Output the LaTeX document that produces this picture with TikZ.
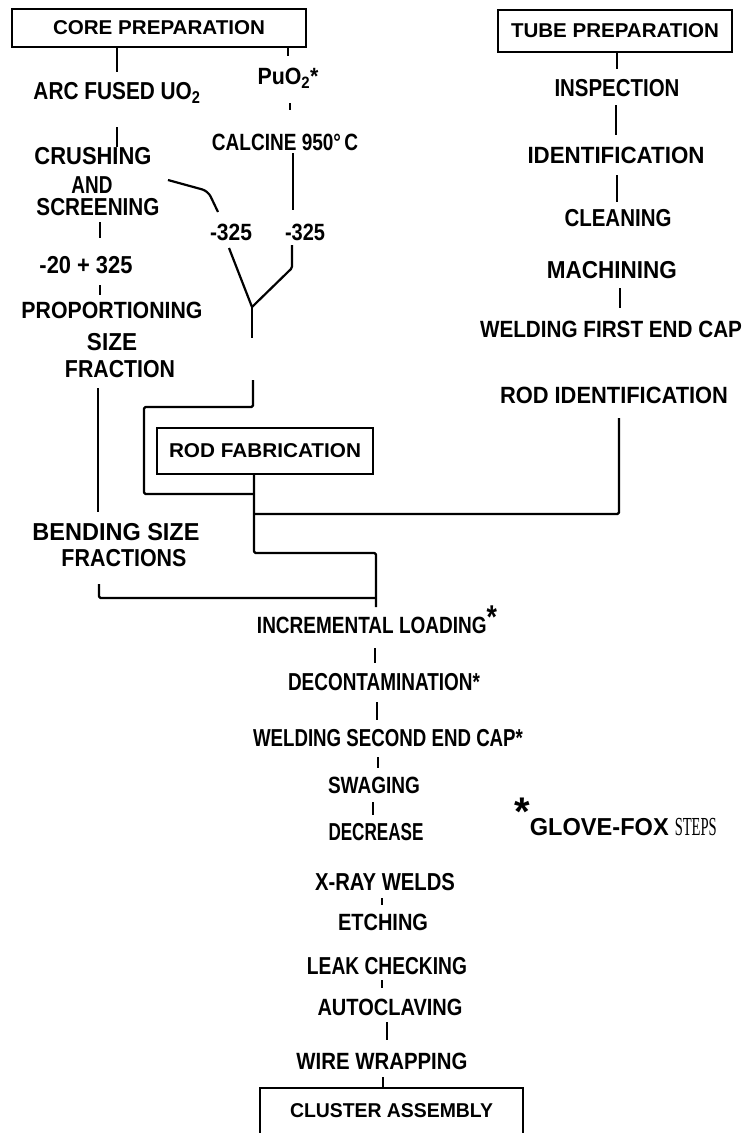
\documentclass[tikz,border=0pt]{standalone}
\usepackage{fontspec}
\setmainfont{Liberation Sans}
\newfontfamily\serifface{Liberation Serif}
\usetikzlibrary{calc}
% squeeze a label horizontally to a given width (in pt), keeping its height
\newcommand\fitw[2]{\resizebox{#1pt}{\height}{#2}}

\begin{document}
\begin{tikzpicture}[x=1pt,y=-1pt,
  boldlbl/.style={inner sep=0pt, font=\fontsize{24.5}{26}\selectfont\bfseries},
  litelbl/.style={inner sep=0pt, font=\fontsize{23.5}{25}\selectfont\bfseries},
  headbox/.style={draw, line width=2pt, inner sep=0pt, font=\fontsize{20}{22}\selectfont\bfseries},
  flowline/.style={line width=2.8pt},
  routeline/.style={line width=2.2pt, line join=round, rounded corners=1.5pt},
  thinline/.style={line width=1.2pt}]

\fill[white] (0,0) rectangle (745,1133);
\useasboundingbox (0,0) rectangle (745,1133);
\clip (0,0) rectangle (745,1133);

% ---------- boxed headings ----------
\node[headbox, minimum width=294pt, minimum height=38pt] (core) at (159,28) {\fitw{212}{CORE PREPARATION}};
\node[headbox, minimum width=234pt, minimum height=42pt] (tube) at (615,31) {\fitw{208}{TUBE PREPARATION}};
\node[headbox, minimum width=216pt, minimum height=46pt] (rodfab) at (265,451) {\fitw{192}{ROD FABRICATION}};
\node[headbox, minimum width=263pt, minimum height=56pt, text height=16pt, text depth=14pt] (cluster) at (391.5,1116) {\fitw{203}{CLUSTER ASSEMBLY}};

% ---------- core preparation branch ----------
\node[boldlbl] (arc) at (117,93) {\fitw{167}{ARC FUSED UO\textsubscript{2}}};
\node[litelbl] (puo) at (288,78) {\fitw{61}{PuO\textsubscript{2}*}};
\node[litelbl] (calc) at (285,142) {\fitw{146}{CALCINE 950°\,C}};
\node[boldlbl] (crush) at (93,156) {\fitw{117}{CRUSHING}};
\node[boldlbl] (and) at (92,185) {\fitw{41}{AND}};
\node[boldlbl] (screen) at (98,207) {\fitw{123}{SCREENING}};
\node[boldlbl] (mesh) at (86,265) {\fitw{93}{-20 + 325}};
\node[litelbl] (prop) at (112,310) {\fitw{181}{PROPORTIONING}};
\node[boldlbl] (size) at (112,342) {\fitw{50}{SIZE}};
\node[boldlbl] (frac) at (120,369) {\fitw{110}{FRACTION}};
\node[litelbl] (fineA) at (231,232) {\fitw{42}{-325}};
\node[litelbl] (fineB) at (305,232) {\fitw{40}{-325}};
\node[boldlbl] (bend) at (116,532) {\fitw{167}{BENDING SIZE}};
\node[boldlbl] (fracs) at (124,558) {\fitw{125}{FRACTIONS}};

% ---------- tube preparation branch ----------
\node[boldlbl] (insp) at (617,88) {\fitw{125}{INSPECTION}};
\node[litelbl] (ident) at (616,155) {\fitw{177}{IDENTIFICATION}};
\node[boldlbl] (clean) at (618,218) {\fitw{107}{CLEANING}};
\node[boldlbl] (mach) at (612,270) {\fitw{130}{MACHINING}};
\node[litelbl] (weldA) at (611,329) {\fitw{262}{WELDING FIRST END CAP}};
\node[litelbl] (rodid) at (614,395) {\fitw{228}{ROD IDENTIFICATION}};

% ---------- rod fabrication sequence ----------
\node[litelbl] (incr) at (377,620) {\fitw{240}{INCREMENTAL LOADING{\fontsize{33}{33}\selectfont\raisebox{5.4pt}{*}}}};
\node[boldlbl] (decon) at (384,682) {\fitw{192}{DECONTAMINATION*}};
\node[boldlbl] (weldB) at (388,738) {\fitw{270}{WELDING SECOND END CAP*}};
\node[litelbl] (swag) at (374,785) {\fitw{92}{SWAGING}};
\node[boldlbl] (decr) at (376,832) {\fitw{95}{DECREASE}};
\node[boldlbl] (xray) at (385,882) {\fitw{140}{X-RAY WELDS}};
\node[litelbl] (etch) at (383,922) {\fitw{90}{ETCHING}};
\node[boldlbl] (leak) at (387,966) {\fitw{160}{LEAK CHECKING}};
\node[litelbl] (auto) at (390,1007) {\fitw{145}{AUTOCLAVING}};
\node[litelbl] (wire) at (382,1061) {\fitw{171}{WIRE WRAPPING}};

% footnote on glove-box work
\node[boldlbl, anchor=west] (note) at (514,817)
  {{\fontsize{40}{40}\selectfont\raisebox{10.4pt}{*}}\fitw{139}{GLOVE-FOX}\hspace{6pt}{\mdseries\serifface\fontsize{26}{28}\selectfont\fitw{42}{STEPS}}};

% ---------- junction points ----------
\coordinate (merge) at (252,307);
\coordinate (feed) at (254,494);
\coordinate (junc) at (254,514);
\coordinate (tojoin) at (376,598);

% ---------- core preparation connectors ----------
\draw[flowline] (core.south -| arc) -- ++(0,24);
\draw[flowline] (core.south -| puo) -- ++(0,8);
\draw[flowline] (puo) ++(2,25) -- ++(0,7);
\draw[thinline] (arc) ++(0,34) -- ++(0,20);
\draw[flowline] (calc) ++(8,11) -- ++(0,57);
\draw[routeline, rounded corners=6pt] (and) ++(76,-5) -- ++(40,11) -- ++(10,21);
\draw[flowline] (screen) ++(2,15) -- ++(0,16);
\draw[flowline] (mesh) ++(14,20) -- ++(0,10);
\draw[routeline] (fineA) ++(-2,16) -- (merge);
\draw[routeline] (fineB) ++(-13,13) -- ++(0,23) -- (merge);
\draw[routeline] (merge) -- ++(0,31);
\draw[routeline] (merge) ++(1,73) -- ++(0,27) -- ++(-109,0) -- ++(0,87) -- (feed);
\draw[routeline] (frac) ++(-22,19) -- ++(0,124);

% ---------- tube preparation connectors ----------
\draw[flowline] (tube.south -| insp) -- ++(0,16);
\draw[thinline] (insp) ++(-1,17) -- ++(0,30);
\draw[flowline] (ident) ++(1,20) -- ++(0,27);
\draw[flowline] (mach) ++(8,18) -- ++(0,20);
\draw[routeline] (rodid) ++(5,23) |- (junc);

% ---------- rod fabrication routing ----------
\draw[routeline] (rodfab.south -| feed) -- (junc) -- ++(0,39) -| (tojoin) -- ++(0,9);
\draw[routeline] (fracs) ++(-25,26) -- ++(0,14) -- (tojoin);

% ---------- sequence connectors ----------
\draw[flowline] (incr) ++(-2,28) -- ++(0,15);
\draw[flowline] (decon) ++(-7,20) -- ++(0,18);
\draw[flowline] (weldB) ++(-10,19) -- ++(0,11);
\draw[thinline] (swag) ++(-1,17) -- ++(0,13);
\draw[flowline] (xray) ++(-3,16) -- ++(0,7);
\draw[flowline] (leak) ++(-5,14) -- ++(0,8);
\draw[flowline] (auto) ++(-3,15) -- ++(0,18);
\draw[flowline] (wire) ++(1,16) -- ++(0,11);
\end{tikzpicture}
\end{document}
